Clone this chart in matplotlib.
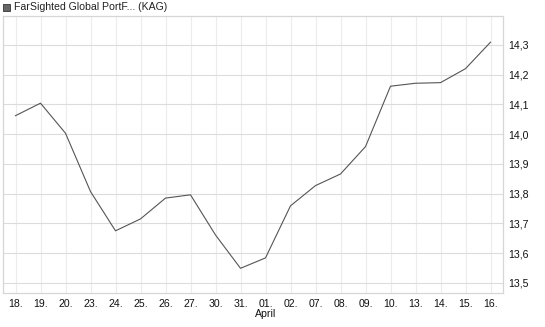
import matplotlib
matplotlib.use("Agg")
import matplotlib.pyplot as plt
from matplotlib.patches import Rectangle

plt.rcParams['font.family'] = ['Liberation Sans', 'DejaVu Sans']

labels = ["18.", "19.", "20.", "23.", "24.", "25.", "26.", "27.", "30.", "31.",
          "01.", "02.", "07.", "08.", "09.", "10.", "13.", "14.", "15.", "16."]
values = [14.062, 14.104, 14.003, 13.807, 13.675, 13.715, 13.785, 13.796, 13.661, 13.549,
          13.584, 13.759, 13.827, 13.866, 13.958, 14.161, 14.171, 14.173, 14.220, 14.309]
yticks = [13.5, 13.6, 13.7, 13.8, 13.9, 14.0, 14.1, 14.2, 14.3]
title = "FarSighted Global PortF... (KAG)"
month_label = "April"

fig = plt.figure(figsize=(5.45, 3.27), dpi=100)
ax = fig.add_axes([3/545, (327-293)/327, 500/545, 277/327])

x = list(range(len(values)))
ax.plot(x, values, color='#555555', lw=0.8, zorder=3)

ax.set_xlim(-0.5, len(values) - 0.5)
ax.set_ylim(13.466, 14.397)
ax.set_xticks(x)
ax.set_xticklabels(labels, fontsize=7.6, color='#111111')
ax.set_yticks(yticks)
ax.set_yticklabels([f"{v:.1f}".replace('.', ',') for v in yticks], fontsize=7.6, color='#111111')
ax.yaxis.tick_right()
ax.tick_params(axis='both', length=0)
ax.tick_params(axis='x', pad=4)
ax.tick_params(axis='y', pad=4)

ax.grid(axis='y', color='#dcdcdc', lw=0.8)
ax.grid(axis='x', color='#ececec', lw=0.8)
ax.set_axisbelow(True)
for s in ax.spines.values():
    s.set_color('#d6d6d6')
    s.set_linewidth(0.9)

ax.text(10, -0.058, month_label, transform=ax.get_xaxis_transform(),
        ha='center', va='top', fontsize=7.6, color='#111111')

fig.patches.append(Rectangle((3/545, 1 - 11/327), 7/545, 7/327, transform=fig.transFigure,
                             facecolor='#666666', edgecolor='#333333', lw=0.6))
fig.text(14/545, 1 - 7.5/327, title, ha='left', va='center', fontsize=7.6, color='#222222')

fig.savefig("out.png", dpi=100)
